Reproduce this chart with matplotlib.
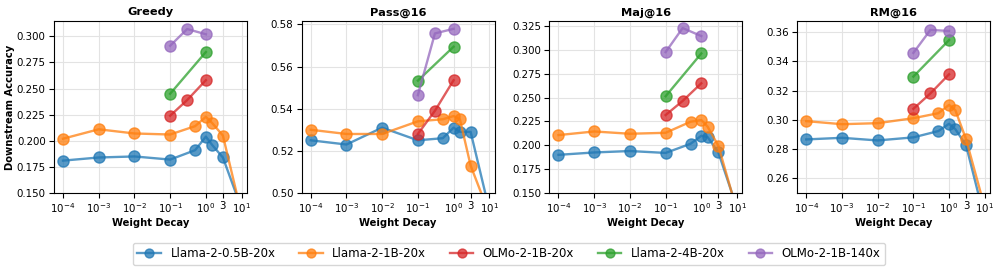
import matplotlib
matplotlib.use("Agg")
import matplotlib.pyplot as plt
from matplotlib.ticker import FixedLocator, FixedFormatter, NullLocator

# ---- data ----
titles = ["Greedy", "Pass@16", "Maj@16", "RM@16"]
series_names = ["Llama-2-0.5B-20x", "Llama-2-1B-20x", "OLMo-2-1B-20x", "Llama-2-4B-20x", "OLMo-2-1B-140x"]
colors = ["#1f77b4", "#ff7f0e", "#d62728", "#2ca02c", "#9467bd"]

wd_small = [1e-4, 1e-3, 1e-2, 1e-1, 0.5, 1.0, 1.5, 3.0, 10.0]
wd_mid3 = [0.1, 0.3, 1.0]
wd_mid2 = [0.1, 1.0]

# Greedy
greedy_05b = [0.181, 0.184, 0.185, 0.182, 0.191, 0.204, 0.196, 0.184, 0.135]
greedy_1b = [0.202, 0.211, 0.207, 0.206, 0.214, 0.223, 0.217, 0.205, 0.130]
greedy_olmo = [0.224, 0.239, 0.258]
greedy_4b = [0.245, 0.285]
greedy_olmo140 = [0.291, 0.307, 0.302]

# Pass@16
pass_05b = [0.525, 0.523, 0.531, 0.525, 0.526, 0.531, 0.529, 0.529, 0.492]
pass_1b = [0.530, 0.528, 0.528, 0.534, 0.535, 0.5365, 0.535, 0.513, 0.490]
pass_olmo = [0.528, 0.539, 0.5535]
pass_4b = [0.5533, 0.5694]
pass_olmo140 = [0.5464, 0.5757, 0.5779]

# Maj@16
maj_05b = [0.190, 0.1925, 0.194, 0.192, 0.2016, 0.210, 0.2086, 0.1925, 0.134]
maj_1b = [0.2107, 0.2145, 0.2121, 0.2131, 0.2247, 0.2265, 0.2195, 0.1995, 0.131]
maj_olmo = [0.2317, 0.2465, 0.265]
maj_4b = [0.2514, 0.2963]
maj_olmo140 = [0.2977, 0.3229, 0.3145]

# RM@16
rm_05b = [0.2866, 0.2877, 0.2859, 0.288, 0.2923, 0.2973, 0.2936, 0.2825, 0.232]
rm_1b = [0.2991, 0.297, 0.2977, 0.3011, 0.3045, 0.3102, 0.3066, 0.2866, 0.240]
rm_olmo = [0.3075, 0.318, 0.3311]
rm_4b = [0.3295, 0.3545]
rm_olmo140 = [0.3457, 0.3614, 0.3607]

panels = [
    [greedy_05b, greedy_1b, greedy_olmo, greedy_4b, greedy_olmo140],
    [pass_05b, pass_1b, pass_olmo, pass_4b, pass_olmo140],
    [maj_05b, maj_1b, maj_olmo, maj_4b, maj_olmo140],
    [rm_05b, rm_1b, rm_olmo, rm_4b, rm_olmo140],
]
xs_per_series = [wd_small, wd_small, wd_mid3, wd_mid2, wd_mid3]

ylims = [(0.150, 0.3147), (0.500, 0.5816), (0.150, 0.3303), (0.250, 0.3675)]
yticks = [
    [0.150, 0.175, 0.200, 0.225, 0.250, 0.275, 0.300],
    [0.50, 0.52, 0.54, 0.56, 0.58],
    [0.150, 0.175, 0.200, 0.225, 0.250, 0.275, 0.300, 0.325],
    [0.26, 0.28, 0.30, 0.32, 0.34, 0.36],
]
yfmt = ["{:.3f}", "{:.2f}", "{:.3f}", "{:.2f}"]
xtick_vals = [1e-4, 1e-3, 1e-2, 1e-1, 1.0, 3.0, 10.0]
xtick_labels = [r"$10^{-4}$", r"$10^{-3}$", r"$10^{-2}$", r"$10^{-1}$", r"$10^{0}$", "3", r"$10^{1}$"]

fig, axes = plt.subplots(1, 4, figsize=(9.97, 2.73), dpi=100)
fig.subplots_adjust(left=54/997, right=990/997, top=1-21/273, bottom=1-193/273, wspace=0.285)

handles = []
for i, ax in enumerate(axes):
    for j, vals in enumerate(panels[i]):
        h, = ax.plot(xs_per_series[j], vals, "-o", color=colors[j], lw=1.7, ms=8,
                     alpha=0.75, label=series_names[j])
        if i == 0:
            handles.append(h)
    ax.set_xscale("log")
    ax.set_xlim(5.6e-5, 14)
    ax.set_ylim(*ylims[i])
    ax.xaxis.set_major_locator(FixedLocator(xtick_vals))
    ax.xaxis.set_major_formatter(FixedFormatter(xtick_labels))
    ax.xaxis.set_minor_locator(NullLocator())
    ax.set_yticks(yticks[i])
    ax.set_yticklabels([yfmt[i].format(v) for v in yticks[i]])
    ax.tick_params(labelsize=7.4, length=3.5, pad=2.5)
    ax.grid(True, color="#e3e3e3", lw=0.8)
    ax.set_axisbelow(True)
    ax.set_title(titles[i], fontsize=8.2, fontweight="bold", pad=4)
    ax.set_xlabel("Weight Decay", fontsize=7.2, fontweight="bold", labelpad=2)
axes[0].set_ylabel("Downstream Accuracy", fontsize=7.2, fontweight="bold")
axes[0].yaxis.set_label_coords(-0.20, 0.5)

fig.legend(handles=handles, labels=series_names, loc="center", ncol=5,
           bbox_to_anchor=(0.5105, 0.07), fontsize=8.5, frameon=True,
           handlelength=2, markerscale=0.8, columnspacing=2.0)

fig.savefig("out.png", dpi=100)
